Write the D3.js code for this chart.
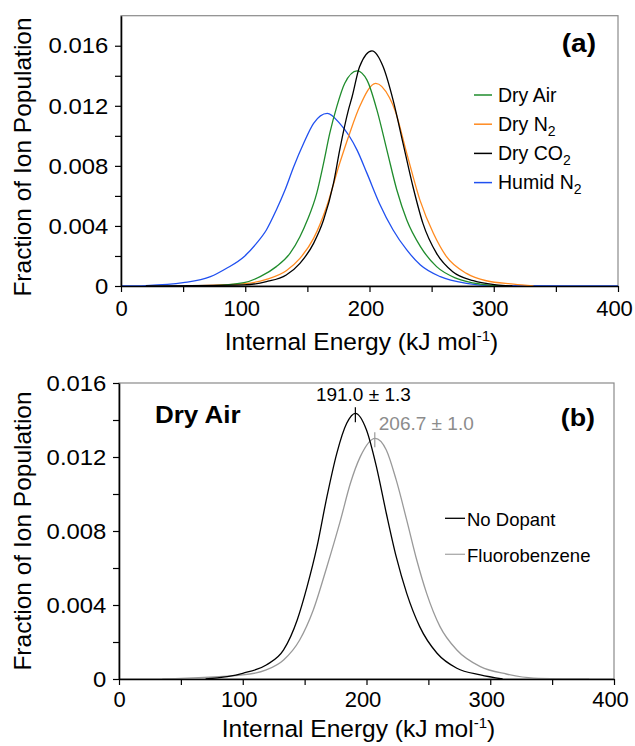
<!DOCTYPE html>
<html><head><meta charset="utf-8">
<script src="https://cdn.jsdelivr.net/npm/d3@7"></script>
<style>
body{margin:0;background:#fff}
svg{display:block}
text{font-family:"Liberation Sans",Arial,sans-serif;fill:#000}
</style>
</head><body>
<svg id="chart" width="635" height="746"></svg>
<script>
// ---------- data ----------
const xTickValues=[0,50,100,150,200,250,300,350,400];
const xTickLabels=["0","","100","","200","","300","","400"];
const yTickValues=[0,0.002,0.004,0.006,0.008,0.010,0.012,0.014,0.016];
const yTickLabels=["0","","0.004","","0.008","","0.012","","0.016"];

// panel (a)
const seriesNamesA=["Dry Air","Dry N2","Dry CO2","Humid N2"];
const seriesColorsA=["#1f8c2c","#ff8a1f","#000000","#2050f0"];
const dryAirE=[70,99,112,125,136,144,150,157.5,163,168,173.6,180,190,198,206,214,222,230,241,254,270,289,310];
const dryAirF=[0,0.00022,0.00062,0.00129,0.00217,0.00328,0.00439,0.00617,0.00817,0.01016,0.01193,0.01349,0.01433,0.01371,0.01171,0.00905,0.00639,0.00439,0.00262,0.00129,0.00051,0.00013,0];
const dryN2E=[55,99,117,133,144,155,165.5,176,184,192,205,216,220.5,230,240.6,251.4,262,278,294,316,332];
const dryN2F=[0,0.00015,0.00044,0.00102,0.00184,0.00317,0.00528,0.00817,0.01016,0.01193,0.01349,0.01255,0.01171,0.00883,0.00572,0.00351,0.00195,0.00084,0.00035,0.00013,0];
const dryCO2E=[20,99,117,133,144,155,163,171,176,183,186,192,202,211,219,227,235,243,254,267,283.5,302,315];
const dryCO2F=[0,0.00007,0.00029,0.00073,0.00151,0.00284,0.00439,0.00683,0.00905,0.01171,0.0126,0.0146,0.01566,0.0146,0.01238,0.0095,0.00661,0.00417,0.00217,0.00095,0.00035,0.00007,0];
const humidN2E=[0,20,50,72,85,99,109,117,125,132,139,147,155,166,176,190,198,208,219,230,241,257,278,300,400];
const humidN2F=[0,0.00003,0.00022,0.00062,0.00118,0.00195,0.00284,0.00373,0.00506,0.00639,0.00794,0.0095,0.01083,0.01149,0.01083,0.00905,0.0075,0.0055,0.00373,0.0024,0.0014,0.00062,0.00018,0.00003,0];

// panel (b)
const seriesNamesB=["No Dopant","Fluorobenzene"];
const seriesColorsB=["#000000","#999999"];
const noDopantE=[70,100,119,133,144,152,160,168,176,184,191,200,208,216,224,232.5,243,257,273,292,310];
const noDopantF=[0,0.00031,0.00076,0.00157,0.00319,0.00499,0.00715,0.00985,0.0122,0.01382,0.01436,0.01346,0.01148,0.00896,0.00661,0.00463,0.00283,0.00139,0.00058,0.00022,0];
const fluoroE=[35,100,119,133,146,157,168,179,187,195,207,216,224,232.5,240.6,248.6,259.4,273,292,313,335,380];
const fluoroF=[0,0.00022,0.00049,0.00103,0.00211,0.00373,0.00607,0.00859,0.01058,0.01202,0.01301,0.01238,0.01076,0.00859,0.00643,0.00463,0.00283,0.00157,0.00067,0.00027,0.00005,0];
const peakE=[191.0,206.7];
const peakF=[0.01436,0.01301];
const peakLabels=["191.0 ± 1.3","206.7 ± 1.0"];

// ---------- drawing ----------
const svg=d3.select("#chart");
const zip=(E,F)=>E.map((e,i)=>({e:e,f:F[i]}));

function panel(o){
  const g=svg.append("g");
  const x=d3.scaleLinear().domain([0,400]).range([o.left,o.right]);
  const y=d3.scaleLinear().domain([0,o.ymax]).range([o.bottom,o.top]);
  g.append("rect").attr("x",o.left).attr("y",o.top).attr("width",o.right-o.left).attr("height",o.bottom-o.top)
    .attr("fill","none").attr("stroke","#8a8a8a").attr("stroke-width",1.2);
  const line=d3.line().x(d=>x(d.e)).y(d=>y(d.f)).curve(d3.curveMonotoneX);
  o.series.forEach(s=>{
    g.append("path").datum(zip(s.E,s.F)).attr("d",line).attr("fill","none")
      .attr("stroke",s.color).attr("stroke-width",1.3);
  });
  const ya=g.append("g").attr("transform",`translate(${o.left},0)`)
    .call(d3.axisLeft(y).tickValues(yTickValues.filter(v=>v<=o.ymax+1e-9)).tickFormat((d,i)=>yTickLabels[i]).tickSize(6).tickPadding(6).tickSizeOuter(0));
  const xa=g.append("g").attr("transform",`translate(0,${o.bottom})`)
    .call(d3.axisBottom(x).tickValues(xTickValues).tickFormat((d,i)=>xTickLabels[i]).tickSize(6).tickPadding(o.xPad).tickSizeOuter(0));
  [ya,xa].forEach(a=>{
    a.select(".domain").attr("stroke","#000").attr("stroke-width",1.6);
    a.selectAll(".tick line").attr("stroke","#000").attr("stroke-width",1.2);
    a.selectAll("text").attr("fill","#000").style("font-family",'"Liberation Sans",Arial,sans-serif');
  });
  ya.selectAll(".tick text").attr("font-size",22.5).attr("transform","scale(1.06,1)");
  xa.selectAll(".tick text").attr("font-size",22).attr("dx",d=>d>0?-4:0);
  const xt=g.append("text").attr("x",(o.left+o.right)/2-8).attr("y",o.xTitleY).attr("text-anchor","middle").attr("font-size",24.5);
  xt.append("tspan").text("Internal Energy (kJ mol");
  xt.append("tspan").text("-1").attr("font-size",15).attr("dy",-9.5);
  xt.append("tspan").text(")").attr("dy",9.5);
  g.append("text").attr("transform",`translate(31,${o.yTitleC}) rotate(-90)`).attr("text-anchor","middle")
    .attr("font-size",24.5).text("Fraction of Ion Population");
  return {g,x,y};
}

// panel (a)
const A=panel({left:121,right:618,top:15.7,bottom:286,ymax:0.018,xTitleY:350,yTitleC:157,xPad:8,
  series:[{E:humidN2E,F:humidN2F,color:seriesColorsA[3]},{E:dryN2E,F:dryN2F,color:seriesColorsA[1]},
          {E:dryAirE,F:dryAirF,color:seriesColorsA[0]},{E:dryCO2E,F:dryCO2F,color:seriesColorsA[2]}]});
A.g.append("text").attr("transform","translate(596,52) scale(1.12,1)").attr("text-anchor","end").attr("font-size",25).attr("font-weight","bold").text("(a)");
seriesNamesA.forEach((n,i)=>{
  const yy=95+i*29.2;
  A.g.append("line").attr("x1",474).attr("x2",492).attr("y1",yy).attr("y2",yy).attr("stroke",seriesColorsA[i]).attr("stroke-width",1.5);
  const t=A.g.append("text").attr("x",498).attr("y",yy+6.7).attr("font-size",19.5);
  if(n.endsWith("2")){
    t.append("tspan").text(n.slice(0,-1));
    t.append("tspan").text("2").attr("font-size",14).attr("dy",5);
  } else t.text(n);
});

// panel (b)
const B=panel({left:119,right:614,top:383,bottom:679,ymax:0.016,xTitleY:737,yTitleC:531,xPad:6,
  series:[{E:fluoroE,F:fluoroF,color:seriesColorsB[1]},{E:noDopantE,F:noDopantF,color:seriesColorsB[0]}]});
B.g.append("text").attr("transform","translate(595,426) scale(1.12,1)").attr("text-anchor","end").attr("font-size",24).attr("font-weight","bold").text("(b)");
B.g.append("text").attr("transform","translate(155,423) scale(1.13,1)").attr("font-size",23).attr("font-weight","bold").text("Dry Air");
peakE.forEach((e,i)=>{
  const px=B.x(e), py=B.y(peakF[i]);
  B.g.append("line").attr("x1",px).attr("x2",px).attr("y1",py-6).attr("y2",py+9).attr("stroke",seriesColorsB[i]).attr("stroke-width",1.2);
  if(i===0) B.g.append("text").attr("x",px+8).attr("y",py-12).attr("text-anchor","middle").attr("font-size",19).text(peakLabels[i]);
  else B.g.append("text").attr("x",px+4).attr("y",py-8).attr("font-size",19).style("fill","#8c8c8c").text(peakLabels[i]);
});
seriesNamesB.forEach((n,i)=>{
  const yy=518.3+i*36;
  B.g.append("line").attr("x1",445).attr("x2",465).attr("y1",yy).attr("y2",yy).attr("stroke",i?"#aaaaaa":"#000").attr("stroke-width",1.3);
  B.g.append("text").attr("x",467).attr("y",yy+7.7).attr("font-size",18.5).text(n);
});
</script>
</body></html>
